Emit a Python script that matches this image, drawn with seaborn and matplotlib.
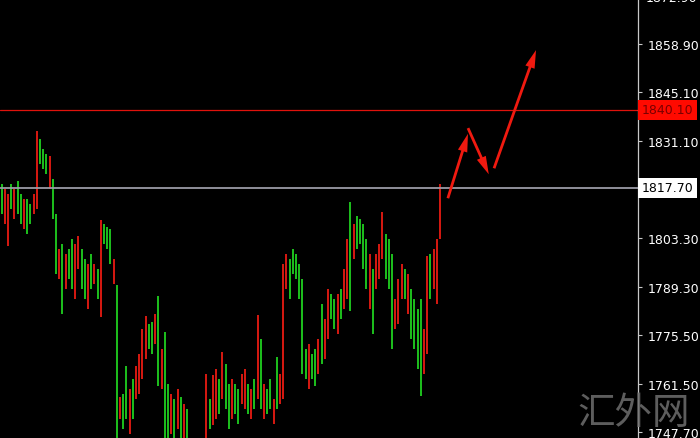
import pandas as pd
import numpy as np
import seaborn as sns
import matplotlib.pyplot as plt
import matplotlib.transforms as mtransforms

# === bar data (high / low / direction) ===
highs = [1818.9, 1817.4, 1816.0, 1818.9, 1817.4, 1819.7, 1816.0, 1814.6, 1814.6, 1813.1,
         1816.0, 1834.0, 1831.8, 1828.9, 1827.5, 1826.9, 1820.3, 1810.3, 1800.2, 1801.6,
         1798.8, 1800.2, 1803.1, 1801.6, 1803.9, 1800.2, 1797.4, 1795.9, 1798.8, 1795.9,
         1794.5, 1808.5, 1807.4, 1806.5, 1806.0, 1797.4, 1790.0, 1757.8, 1758.6, 1766.7,
         1760.1, 1763.0, 1766.7, 1770.1, 1777.3, 1781.0, 1778.7, 1779.3, 1781.6, 1786.7,
         1771.6, 1776.4, 1761.5, 1758.6, 1757.2, 1760.1, 1757.8, 1755.7, 1754.3, 1744.5,
         1743.0, 1742.0, 1743.5, 1744.8, 1764.4, 1757.2, 1764.0, 1765.8, 1763.0, 1770.7,
         1767.2, 1761.5, 1763.0, 1761.5, 1760.1, 1764.4, 1765.8, 1761.5, 1760.1, 1763.0,
         1781.3, 1774.4, 1761.5, 1760.1, 1763.0, 1757.2, 1769.3, 1764.4, 1795.9, 1798.8,
         1797.4, 1800.2, 1798.8, 1795.9, 1791.6, 1771.6, 1773.0, 1770.1, 1771.6, 1774.4,
         1784.5, 1780.2, 1788.8, 1787.3, 1785.9, 1787.3, 1788.8, 1794.5, 1803.1, 1813.7,
         1807.4, 1809.7, 1808.8, 1807.4, 1803.1, 1798.8, 1794.5, 1798.8, 1801.6, 1810.8,
         1804.5, 1803.1, 1798.8, 1785.9, 1791.6, 1795.9, 1794.5, 1793.1, 1788.8, 1785.9,
         1783.0, 1785.9, 1777.3, 1798.2, 1798.8, 1800.2, 1803.1, 1818.9]
lows = [1810.3, 1807.4, 1801.1, 1811.7, 1808.8, 1810.3, 1807.4, 1806.0, 1804.5, 1807.4,
        1810.3, 1811.7, 1824.6, 1823.2, 1821.7, 1817.4, 1808.8, 1793.1, 1791.6, 1781.6,
        1788.8, 1791.6, 1788.8, 1785.9, 1794.5, 1788.8, 1785.9, 1783.0, 1788.8, 1790.2,
        1785.9, 1780.7, 1801.6, 1800.2, 1795.9, 1790.2, 1743.0, 1751.5, 1748.6, 1751.5,
        1747.2, 1751.5, 1757.2, 1758.6, 1763.0, 1768.7, 1771.6, 1770.1, 1773.0, 1760.9,
        1760.1, 1744.0, 1745.5, 1747.2, 1745.0, 1748.6, 1744.5, 1744.0, 1743.5, 1739.0,
        1737.5, 1736.0, 1738.0, 1739.5, 1744.0, 1748.6, 1749.6, 1751.5, 1752.9, 1757.2,
        1754.3, 1748.6, 1751.5, 1752.9, 1750.0, 1755.7, 1754.3, 1752.9, 1751.5, 1754.3,
        1757.2, 1754.3, 1751.5, 1752.9, 1754.3, 1750.0, 1754.3, 1755.7, 1757.2, 1788.8,
        1785.9, 1793.1, 1791.6, 1785.9, 1764.4, 1763.0, 1760.1, 1763.0, 1760.9, 1764.4,
        1767.2, 1768.7, 1774.4, 1780.2, 1777.3, 1775.9, 1780.2, 1783.0, 1785.9, 1782.4,
        1797.4, 1800.2, 1801.6, 1794.5, 1788.8, 1783.0, 1775.9, 1788.8, 1791.6, 1797.4,
        1791.6, 1788.8, 1771.6, 1777.3, 1778.7, 1785.9, 1785.9, 1781.6, 1774.4, 1771.6,
        1765.8, 1758.1, 1764.4, 1770.1, 1785.9, 1788.8, 1784.5, 1803.1]
direction = list("grrgrggrgg" "rrgggrggrg" "rggrrggrgr" "grgggrgrgg"
                 "rgrrrrggrg" "rggrgrgrgr" "grgrrgrrgr" "ggrggrrgrg"
                 "rgrggrgrrr" "ggggggrggr" "grrggrgrrg" "rggggrgrrr"
                 "gggrrrgrgg" "ggrrgrrr")

# horizontal levels and axis labels
red_level = 1840.10
last_price = 1817.70
tick_values = [1858.9, 1845.1, 1831.1, 1803.3, 1789.3, 1775.5, 1761.5, 1747.7]
top_tick = 1872.9

# arrows (bar index, price)
arrow_paths = [((139.2, 1814.0), (146.0, 1834.0)),
               ((145.4, 1835.6), (152.6, 1820.9)),
               ((153.6, 1822.6), (167.3, 1858.0))]

n = min(len(highs), len(lows), len(direction))
bars = pd.DataFrame({"bar": np.arange(n), "high": highs[:n], "low": lows[:n],
                     "dir": direction[:n]})
long_df = bars.melt(id_vars=["bar", "dir"], value_vars=["low", "high"], value_name="price")

sns.set_style("dark", {"axes.facecolor": "black", "figure.facecolor": "black"})

fig = plt.figure(figsize=(7, 4.39), dpi=100, facecolor="black")
ax = fig.add_axes([0, 0, 638 / 700, 1])
ax.set_facecolor("black")

sns.lineplot(data=long_df, x="bar", y="price", units="bar", estimator=None,
             hue="dir", palette={"g": "#1ec81e", "r": "#e01a12"},
             linewidth=1.35, legend=False, ax=ax, sort=False,
             solid_capstyle="butt")

ax.axhline(red_level, color="#e0120c", lw=0.9)
ax.axhline(last_price, color="#9a9aa6", lw=1.3)

for (x0, y0), (x1, y1) in arrow_paths:
    ax.annotate("", xy=(x1, y1), xytext=(x0, y0),
                arrowprops=dict(arrowstyle="simple,head_length=1.3,head_width=0.7,tail_width=0.2",
                                color="#f01a10", lw=0))

ax.set_xlim(-0.5, 638 / 3.2 - 0.5)
ax.set_ylim(1746.0, 1871.9)
ax.set_xlabel("")
ax.set_ylabel("")
ax.set_xticks([])
ax.yaxis.tick_right()
ax.set_yticks(tick_values)
ax.set_yticklabels([f"{v:.2f}" for v in tick_values])
ax.tick_params(axis="y", colors="#c8c8c8", labelcolor="white", labelsize=9,
               length=3, width=0.8, pad=4, direction="out")
ax.grid(False)
for side in ["top", "left", "bottom"]:
    ax.spines[side].set_visible(False)
ax.spines["right"].set_color("#c8c8c8")
ax.spines["right"].set_linewidth(0.9)

trans = mtransforms.blended_transform_factory(ax.transAxes, ax.transData)
# top label sits partly above the frame, as in the screenshot
ax.text(1.012, top_tick - 0.7, f"{top_tick:.2f}", transform=trans, color="white",
        fontsize=9, va="center", ha="left", clip_on=False)
ax.text(1.006, red_level, f"{red_level:.2f}", transform=trans, color="#7a0000",
        fontsize=9, va="center", ha="left", clip_on=False,
        bbox=dict(boxstyle="square,pad=0.28", fc="#ff0a00", ec="none"))
ax.text(1.006, last_price, f"{last_price:.2f}", transform=trans, color="black",
        fontsize=9, va="center", ha="left", clip_on=False,
        bbox=dict(boxstyle="square,pad=0.28", fc="white", ec="none"))

# watermark
fig.text(0.905, 0.058, "汇外网", color="#6e6e6e", fontsize=27, alpha=0.85,
         ha="center", va="center", family=["Noto Sans CJK SC", "DejaVu Sans"])

fig.savefig("out.png", dpi=100, facecolor="black")
